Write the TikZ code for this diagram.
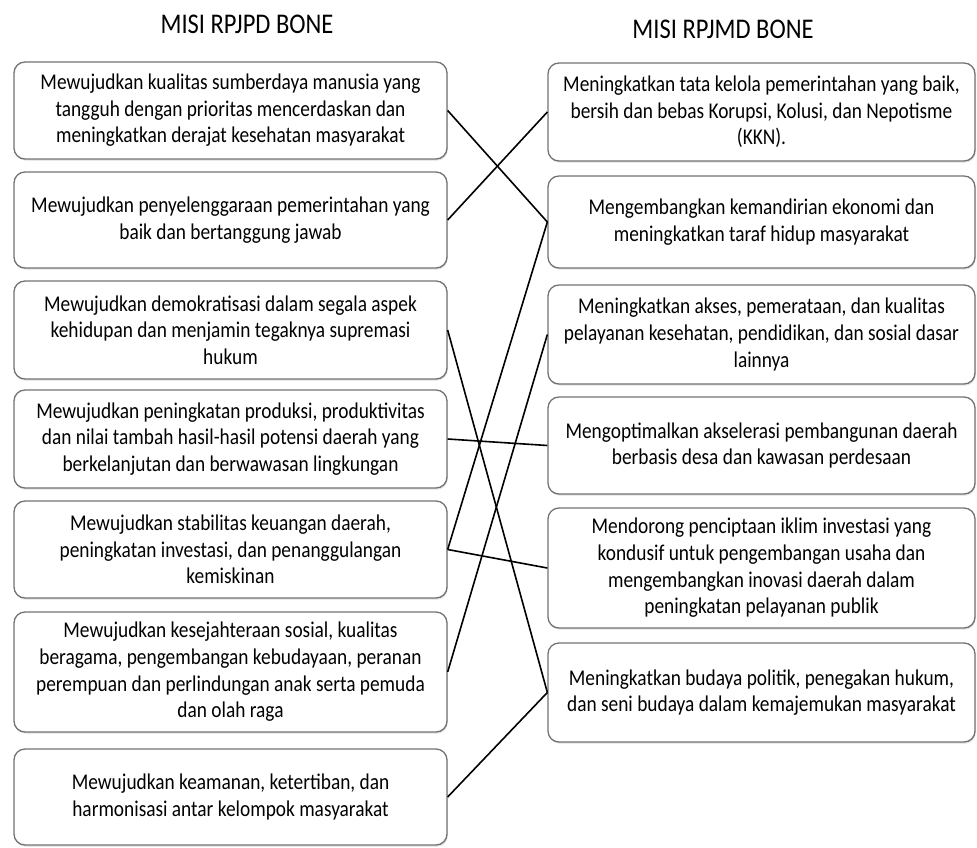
\documentclass[tikz,border=0pt]{standalone}
\usepackage{fontspec}
\setmainfont{Carlito}[FakeStretch=0.86]
\usetikzlibrary{shadows}

\begin{document}
\begin{tikzpicture}[x=1pt,y=-1pt]
\tikzstyle{every node}+=[inner sep=0pt]
\tikzstyle{misi}=[draw=black!55, line width=1.3pt, rounded corners=11pt, fill=white,
  align=center, font=\fontsize{22.5}{26.6}\selectfont,
  drop shadow={opacity=0.25, shadow xshift=0.8pt, shadow yshift=-1.6pt}]
\tikzstyle{kiri}=[misi, minimum width=433pt]
\tikzstyle{kanan}=[misi, minimum width=427pt]
\tikzstyle{judul}=[font=\fontsize{28.5}{32}\selectfont]
\tikzstyle{garis}=[black, line width=1.6pt]
\useasboundingbox (0,0) rectangle (977,848);
% judul
\node [judul] (jpd) at (247,24) {MISI RPJPD BONE};
\node [judul] (jmd) at (723,29) {MISI RPJMD BONE};
% misi RPJPD
\node [kiri, minimum height=97pt] (pd1) at (230.5,110.5) {Mewujudkan kualitas sumberdaya manusia yang\\tangguh dengan prioritas mencerdaskan dan\\meningkatkan derajat kesehatan masyarakat};
\node [kiri, minimum height=96pt] (pd2) at (230.5,220) {Mewujudkan penyelenggaraan pemerintahan yang\\baik dan bertanggung jawab};
\node [kiri, minimum height=98pt] (pd3) at (230.5,330) {Mewujudkan demokratisasi dalam segala aspek\\kehidupan dan menjamin tegaknya supremasi\\hukum};
\node [kiri, minimum height=98pt] (pd4) at (230.5,439) {Mewujudkan peningkatan produksi, produktivitas\\dan nilai tambah hasil-hasil potensi daerah yang\\berkelanjutan dan berwawasan lingkungan};
\node [kiri, minimum height=97pt] (pd5) at (230.5,549.5) {Mewujudkan stabilitas keuangan daerah,\\peningkatan investasi, dan penanggulangan\\kemiskinan};
\node [kiri, minimum height=120pt] (pd6) at (230.5,672) {Mewujudkan kesejahteraan sosial, kualitas\\beragama, pengembangan kebudayaan, peranan\\perempuan dan perlindungan anak serta pemuda\\dan olah raga};
\node [kiri, minimum height=96pt] (pd7) at (230.5,797) {Mewujudkan keamanan, ketertiban, dan\\harmonisasi antar kelompok masyarakat};
% misi RPJMD
\node [kanan, minimum height=98pt] (md1) at (761.5,112) {Meningkatkan tata kelola pemerintahan yang baik,\\bersih dan bebas Korupsi, Kolusi, dan Nepotisme\\(KKN).};
\node [kanan, minimum height=92pt] (md2) at (761.5,222) {Mengembangkan kemandirian ekonomi dan\\meningkatkan taraf hidup masyarakat};
\node [kanan, minimum height=99pt] (md3) at (761.5,334.5) {Meningkatkan akses, pemerataan, dan kualitas\\pelayanan kesehatan, pendidikan, dan sosial dasar\\lainnya};
\node [kanan, minimum height=97pt] (md4) at (761.5,445.5) {Mengoptimalkan akselerasi pembangunan daerah\\berbasis desa dan kawasan perdesaan};
\node [kanan, minimum height=120pt] (md5) at (761.5,568) {Mendorong penciptaan iklim investasi yang\\kondusif untuk pengembangan usaha dan\\mengembangkan inovasi daerah dalam\\peningkatan pelayanan publik};
\node [kanan, minimum height=99pt] (md6) at (761.5,692.5) {Meningkatkan budaya politik, penegakan hukum,\\dan seni budaya dalam kemajemukan masyarakat};
% keterkaitan
\draw [garis] (pd1.east) -- (md2.west);
\draw [garis] (pd2.east) -- (md1.west);
\draw [garis] (pd3.east) -- (md6.west);
\draw [garis] (pd4.east) -- (md4.west);
\draw [garis] (pd5.east) -- (md2.west);
\draw [garis] (pd5.east) -- (md5.west);
\draw [garis] (pd6.east) -- (md3.west);
\draw [garis] (pd7.east) -- (md6.west);
\end{tikzpicture}
\end{document}
